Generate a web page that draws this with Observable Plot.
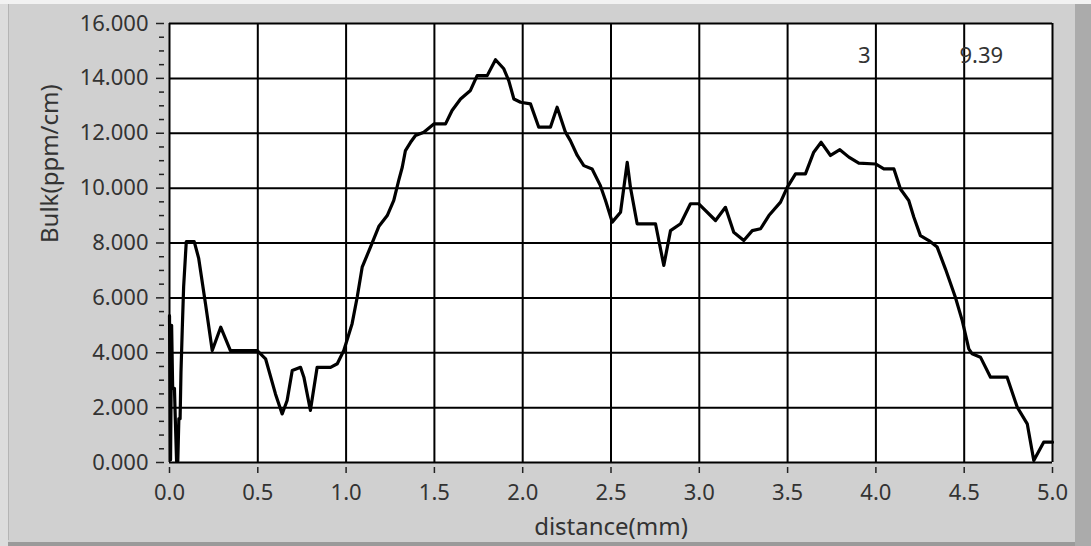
<!DOCTYPE html>
<html>
<head>
<meta charset="utf-8">
<script src="https://cdn.jsdelivr.net/npm/d3@7"></script>
<script src="https://cdn.jsdelivr.net/npm/@observablehq/plot@0.6"></script>
<style>
  html, body { margin: 0; padding: 0; background: #d0d0d0; }
  #wrap { position: relative; width: 1091px; height: 546px; overflow: hidden; background: #d0d0d0; }
  #wrap .deco { position: absolute; }
  #chart { position: absolute; left: 0; top: 0; }
</style>
</head>
<body>
<div id="wrap">
  <div class="deco" style="left:0;top:0;width:1091px;height:4px;background:#f2f2f2;"></div>
  <div class="deco" style="left:0;top:4px;width:8px;height:542px;background:#dcdcdc;"></div>
  <div class="deco" style="left:8px;top:4px;width:1px;height:536px;background:#b4b4b4;"></div>
  <div class="deco" style="left:1075px;top:4px;width:16px;height:542px;background:#ababab;"></div>
  <div class="deco" style="left:8px;top:542px;width:1067px;height:4px;background:#9a9a9a;"></div>
  <div id="chart"></div>
</div>
<script>
// ---- data ----
const distance = [
  0.000, 0.006, 0.012, 0.018, 0.028, 0.033, 0.040, 0.047, 0.053, 0.060,
  0.065, 0.072, 0.080, 0.095, 0.140, 0.165, 0.204, 0.242, 0.290, 0.345,
  0.497, 0.544, 0.600, 0.638, 0.666, 0.695, 0.742, 0.761, 0.798, 0.836,
  0.912, 0.950, 0.987, 1.034, 1.063, 1.091, 1.138, 1.185, 1.233, 1.270,
  1.298, 1.318, 1.336, 1.365, 1.393, 1.440, 1.497, 1.563, 1.600, 1.648,
  1.704, 1.742, 1.799, 1.846, 1.893, 1.921, 1.950, 1.988, 2.044, 2.091,
  2.157, 2.195, 2.242, 2.270, 2.309, 2.346, 2.393, 2.440, 2.469, 2.507,
  2.554, 2.592, 2.610, 2.648, 2.752, 2.799, 2.837, 2.894, 2.950, 2.997,
  3.092, 3.148, 3.195, 3.252, 3.300, 3.347, 3.394, 3.460, 3.498, 3.545,
  3.601, 3.648, 3.690, 3.743, 3.796, 3.847, 3.903, 3.998, 4.045, 4.102,
  4.139, 4.186, 4.215, 4.252, 4.300, 4.347, 4.394, 4.450, 4.489, 4.526,
  4.545, 4.592, 4.649, 4.743, 4.800, 4.857, 4.894, 4.950, 5.000
];
const bulk = [
  5.35, 0.10, 5.00, 2.70, 2.70, 1.55, 0.05, 0.05, 1.60, 1.60,
  3.30, 4.80, 6.40, 8.05, 8.05, 7.45, 5.78, 4.08, 4.93, 4.08,
  4.08, 3.78, 2.50, 1.77, 2.26, 3.35, 3.47, 3.11, 1.90, 3.47,
  3.47, 3.60, 4.08, 5.06, 6.03, 7.12, 7.85, 8.60, 9.00, 9.55,
  10.28, 10.76, 11.37, 11.67, 11.92, 12.04, 12.34, 12.34, 12.83, 13.25,
  13.56, 14.10, 14.10, 14.68, 14.35, 13.92, 13.25, 13.13, 13.07, 12.22,
  12.22, 12.95, 12.04, 11.73, 11.19, 10.82, 10.70, 10.09, 9.55, 8.76,
  9.12, 10.94, 10.03, 8.70, 8.70, 7.18, 8.45, 8.70, 9.43, 9.43,
  8.82, 9.30, 8.39, 8.09, 8.45, 8.52, 9.00, 9.49, 10.03, 10.52,
  10.52, 11.31, 11.67, 11.19, 11.40, 11.13, 10.91, 10.88, 10.70, 10.70,
  9.97, 9.55, 8.94, 8.27, 8.09, 7.85, 7.05, 6.02, 5.17, 4.14,
  3.96, 3.84, 3.11, 3.11, 2.02, 1.41, 0.07, 0.74, 0.74
];
const xTicks = [0, 0.5, 1, 1.5, 2, 2.5, 3, 3.5, 4, 4.5, 5];
const yTicks = [0, 2, 4, 6, 8, 10, 12, 14, 16];
const yMinorTicks = [0.5, 1, 1.5, 2.5, 3, 3.5, 4.5, 5, 5.5, 6.5, 7, 7.5, 8.5, 9, 9.5,
  10.5, 11, 11.5, 12.5, 13, 13.5, 14.5, 15, 15.5];
const xLabel = "distance(mm)";
const yLabel = "Bulk(ppm/cm)";
const cursorTexts = ["3", "9.39"];
const cursorX = [3.97, 4.72];
const cursorY = [14.83, 14.83];

const series = distance.map((d, i) => ({distance: d, bulk: bulk[i]}));
const cursors = cursorTexts.map((t, i) => ({text: t, x: cursorX[i], y: cursorY[i]}));

const chart = Plot.plot({
  width: 1091,
  height: 546,
  marginLeft: 169,
  marginRight: 39,
  marginTop: 23,
  marginBottom: 84,
  style: {fontFamily: "'Noto Sans', sans-serif", fontSize: "22px", color: "#333", background: "transparent", overflow: "visible"},
  x: {domain: [0, 5]},
  y: {domain: [0, 16]},
  marks: [
    Plot.frame({fill: "white", stroke: null}),
    Plot.gridX({ticks: xTicks, stroke: "black", strokeOpacity: 1, strokeWidth: 2}),
    Plot.gridY({ticks: yTicks, stroke: "black", strokeOpacity: 1, strokeWidth: 2}),
    Plot.line(series, {x: "distance", y: "bulk", stroke: "black", strokeWidth: 3.2, strokeLinejoin: "round"}),
    Plot.text(cursors, {x: "x", y: "y", text: "text", textAnchor: "end", fontSize: 22, fill: "#333"}),
    Plot.axisX({ticks: xTicks, tickFormat: d3.format(".1f"), tickSize: 6, tickPadding: 11, dy: 5, label: null, stroke: "#222", strokeWidth: 1.5, fill: "#333"}),
    Plot.axisY({ticks: yTicks, tickFormat: d3.format(".3f"), tickSize: 8, tickPadding: 8, dx: -5, label: null, stroke: "#222", strokeWidth: 1.5, fill: "#333"}),
    Plot.axisY({ticks: yMinorTicks, tickFormat: () => "", tickSize: 5, dx: -5, label: null, stroke: "#222", strokeWidth: 1.5}),
    Plot.text([xLabel], {frameAnchor: "bottom", dy: 55, lineAnchor: "top", fontSize: 24, fill: "#333"}),
    Plot.text([yLabel], {frameAnchor: "left", dx: -119, rotate: -90, fontSize: 24, fill: "#333"})
  ]
});
document.getElementById("chart").appendChild(chart);
</script>
</body>
</html>
